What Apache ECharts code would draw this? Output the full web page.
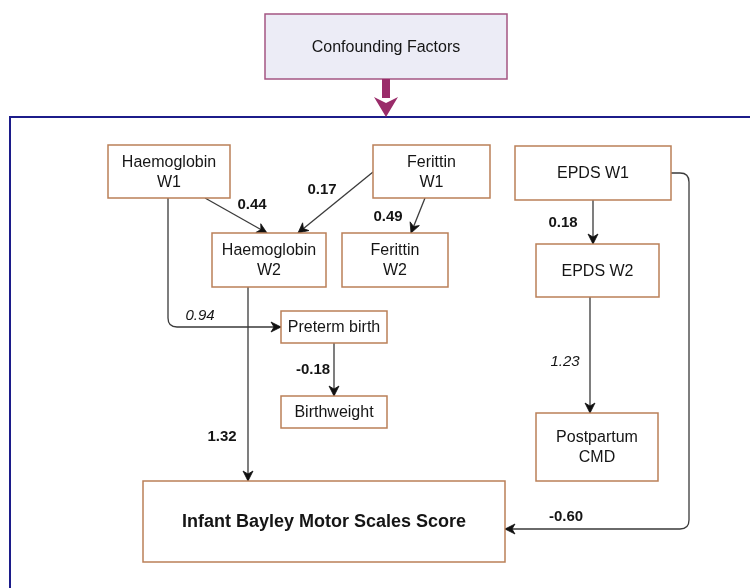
<!DOCTYPE html>
<html><head><meta charset="utf-8">
<script src="https://cdn.jsdelivr.net/npm/echarts@6/dist/echarts.min.js"></script>
<style>html,body{margin:0;padding:0;background:#fff}#c{width:750px;height:588px}</style>
</head><body><div id="c"></div>
<script>
// ---------- DATA ----------
const confounderLabel = 'Confounding Factors';
const nodeNames = ['Haemoglobin\nW1', 'Ferittin\nW1', 'EPDS W1', 'Haemoglobin\nW2', 'Ferittin\nW2',
  'EPDS W2', 'Preterm birth', 'Birthweight', 'Postpartum\nCMD', 'Infant Bayley Motor Scales Score'];
const pathFrom = [0, 1, 1, 2, 0, 3, 6, 5, 2];
const pathTo   = [3, 3, 4, 5, 6, 9, 7, 8, 9];
const pathCoef = [0.44, 0.17, 0.49, 0.18, 0.94, 1.32, -0.18, 1.23, -0.60];
const coefItalic = [false, false, false, false, true, false, false, true, false];

// ---------- LAYOUT (pixel space of the diagram) ----------
const confounderBox = [265, 14, 507, 79];
const frameBox = [10, 117, 780, 620];
const nodeBoxes = [
  [108, 145, 230, 198], [373, 145, 490, 198], [515, 146, 671, 200],
  [212, 233, 326, 287], [342, 233, 448, 287], [536, 244, 659, 297],
  [281, 311, 387, 343], [281, 396, 387, 428], [536, 413, 658, 481],
  [143, 481, 505, 562]
];
const pathRoutes = [
  [[205, 198], [267, 233]],
  [[373, 172], [298, 233]],
  [[425, 198], [411, 233]],
  [[593, 200], [593, 244]],
  [[168, 198], [168, 327], [281, 327]],
  [[248, 287], [248, 481]],
  [[334, 343], [334, 396]],
  [[590, 297], [590, 413]],
  [[671, 173], [689, 173], [689, 529], [505, 529]]
];
const labelPos = [[252, 205], [322, 190], [388, 217], [563, 223], [200, 316], [222, 437], [313, 370], [565, 362], [566, 517]];

const FONT = 'Arial, "Liberation Sans", Helvetica, sans-serif';
const BOX_STROKE = '#bb8058';
const TEXT = '#151515';

function roundedPath(pts, r) {
  let d = 'M' + pts[0][0] + ' ' + pts[0][1];
  for (let i = 1; i < pts.length - 1; i++) {
    const p = pts[i - 1], c = pts[i], n = pts[i + 1];
    const l1 = Math.hypot(c[0] - p[0], c[1] - p[1]), l2 = Math.hypot(n[0] - c[0], n[1] - c[1]);
    const u1 = [(c[0] - p[0]) / l1, (c[1] - p[1]) / l1], u2 = [(n[0] - c[0]) / l2, (n[1] - c[1]) / l2];
    const a = [c[0] - u1[0] * r, c[1] - u1[1] * r], b = [c[0] + u2[0] * r, c[1] + u2[1] * r];
    d += ' L' + a[0] + ' ' + a[1] + ' Q' + c[0] + ' ' + c[1] + ' ' + b[0] + ' ' + b[1];
  }
  const last = pts[pts.length - 1];
  d += ' L' + last[0] + ' ' + last[1];
  return d;
}

const chart = echarts.init(document.getElementById('c'), null, {renderer: 'canvas'});
chart.setOption({
  backgroundColor: '#ffffff',
  animation: false,
  grid: {left: 0, right: 0, top: 0, bottom: 0},
  xAxis: {type: 'value', min: 0, max: 750, show: false},
  yAxis: {type: 'value', min: 0, max: 588, inverse: true, show: false},
  series: [
    { // frame + confounder
      type: 'custom', coordinateSystem: 'cartesian2d', clip: false, silent: true,
      data: [[0]],
      renderItem: function (params, api) {
        const f0 = api.coord([frameBox[0], frameBox[1]]), f1 = api.coord([frameBox[2], frameBox[3]]);
        const c0 = api.coord([confounderBox[0], confounderBox[1]]), c1 = api.coord([confounderBox[2], confounderBox[3]]);
        const cx = (c0[0] + c1[0]) / 2;
        const tip = f0[1];
        return {type: 'group', children: [
          {type: 'rect', shape: {x: f0[0], y: f0[1], width: f1[0] - f0[0], height: f1[1] - f0[1]},
            style: {fill: 'none', stroke: '#1c1c8a', lineWidth: 2}},
          {type: 'rect', shape: {x: c0[0], y: c0[1], width: c1[0] - c0[0], height: c1[1] - c0[1]},
            style: {fill: '#ececf6', stroke: '#a45583', lineWidth: 1.5}},
          {type: 'text', style: {text: confounderLabel, x: cx, y: (c0[1] + c1[1]) / 2 + 1, align: 'center', verticalAlign: 'middle',
            font: '16px ' + FONT, fill: TEXT}},
          {type: 'rect', shape: {x: cx - 4, y: c1[1], width: 8, height: tip - 19 - c1[1]},
            style: {fill: '#9a2c6a'}},
          {type: 'polygon', shape: {points: [[cx - 12, tip - 20], [cx, tip - 14], [cx + 12, tip - 20], [cx, tip]]},
            style: {fill: '#9a2c6a'}}
        ]};
      }
    },
    { // path edges
      type: 'custom', coordinateSystem: 'cartesian2d', clip: false, silent: true,
      data: pathCoef.map((v, i) => [i, v]),
      renderItem: function (params, api) {
        const i = api.value(0);
        const pts = pathRoutes[i].map(p => api.coord(p));
        const n = pts.length, tip = pts[n - 1], prev = pts[n - 2];
        const L = Math.hypot(tip[0] - prev[0], tip[1] - prev[1]);
        const u = [(tip[0] - prev[0]) / L, (tip[1] - prev[1]) / L], pp = [-u[1], u[0]];
        const AL = 10, AW = 5, NOTCH = 3;
        const head = [tip,
          [tip[0] - u[0] * AL + pp[0] * AW, tip[1] - u[1] * AL + pp[1] * AW],
          [tip[0] - u[0] * (AL - NOTCH), tip[1] - u[1] * (AL - NOTCH)],
          [tip[0] - u[0] * AL - pp[0] * AW, tip[1] - u[1] * AL - pp[1] * AW]];
        const lp = api.coord(labelPos[i]);
        return {type: 'group', children: [
          {type: 'path', shape: {pathData: roundedPath(pts, 9)},
            style: {fill: 'none', stroke: '#3a3a3a', lineWidth: 1.3}},
          {type: 'polygon', shape: {points: head}, style: {fill: '#111', stroke: '#111', lineWidth: 0.8}},
          {type: 'text', style: {text: pathCoef[i].toFixed(2), x: lp[0], y: lp[1], align: 'center', verticalAlign: 'middle',
            font: (coefItalic[i] ? 'italic 15px ' : 'bold 15px ') + FONT, fill: TEXT}}
        ]};
      }
    },
    { // nodes
      type: 'custom', coordinateSystem: 'cartesian2d', clip: false, silent: true,
      data: nodeNames.map((n, i) => [i]),
      renderItem: function (params, api) {
        const i = api.value(0);
        const b = nodeBoxes[i];
        const p0 = api.coord([b[0], b[1]]), p1 = api.coord([b[2], b[3]]);
        const isOutcome = i === nodeNames.length - 1;
        return {type: 'group', children: [
          {type: 'rect', shape: {x: p0[0], y: p0[1], width: p1[0] - p0[0], height: p1[1] - p0[1]},
            style: {fill: '#ffffff', stroke: BOX_STROKE, lineWidth: 1.5}},
          {type: 'text', style: {text: nodeNames[i], x: (p0[0] + p1[0]) / 2, y: (p0[1] + p1[1]) / 2 + 1,
            align: 'center', verticalAlign: 'middle', lineHeight: 20,
            font: (isOutcome ? 'bold 18px ' : '16px ') + FONT, fill: TEXT}}
        ]};
      }
    }
  ]
});
</script></body></html>
